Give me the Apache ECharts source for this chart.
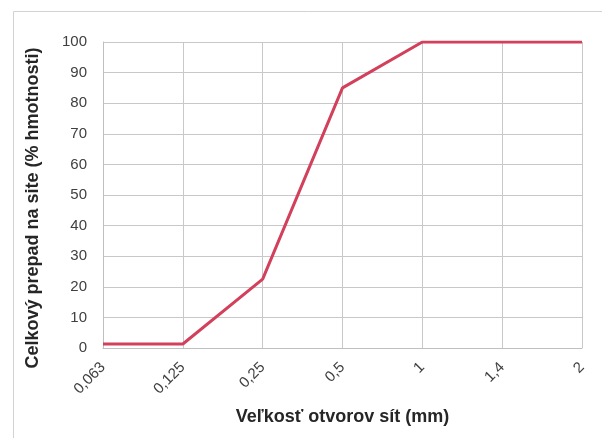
<!DOCTYPE html>
<html><head><meta charset="utf-8">
<script src="https://cdn.jsdelivr.net/npm/echarts@6/dist/echarts.min.js"></script>
<style>html,body{margin:0;padding:0;background:#fff}#c{width:602px;height:438px}</style>
</head><body><div id="c"></div>
<script>
const categories = ['0,063', '0,125', '0,25', '0,5', '1', '1,4', '2'];
const passing = [1.3, 1.3, 22.5, 85, 100, 100, 100];
const yTicks = [0, 10, 20, 30, 40, 50, 60, 70, 80, 90, 100];

const chart = echarts.init(document.getElementById('c'), null, {renderer: 'canvas'});
const font = '"Liberation Sans", Arial, sans-serif';
chart.setOption({
  animation: false,
  backgroundColor: '#fff',
  graphic: [{
    type: 'rect', left: 11, top: 9,
    shape: {width: 620, height: 460},
    style: {fill: 'none', stroke: '#d6d0d2', lineWidth: 1}
  }],
  grid: {left: 103, right: 20, top: 42, bottom: 90, containLabel: false},
  xAxis: {
    type: 'category',
    data: categories,
    boundaryGap: false,
    name: 'Veľkosť otvorov sít (mm)',
    nameLocation: 'middle',
    nameGap: 60,
    nameTextStyle: {fontFamily: font, fontWeight: 'bold', fontSize: 18, color: '#262626'},
    axisLine: {lineStyle: {color: '#bfbfbf'}},
    axisTick: {show: false},
    axisLabel: {rotate: 45, margin: 17, fontFamily: font, fontSize: 15, color: '#404040'},
    splitLine: {show: true, lineStyle: {color: '#c8c8c8', width: 1}}
  },
  yAxis: {
    type: 'value',
    min: 0, max: 100, interval: 10,
    name: 'Celkový prepad na site (% hmotnosti)',
    nameLocation: 'middle',
    nameGap: 61,
    nameTextStyle: {fontFamily: font, fontWeight: 'bold', fontSize: 18, color: '#262626', padding: [0, 26, 0, 0]},
    axisLine: {show: true, lineStyle: {color: '#bfbfbf'}},
    axisTick: {show: false},
    axisLabel: {margin: 16, fontFamily: font, fontSize: 15, color: '#404040',
      formatter: v => yTicks.includes(v) ? String(v) : ''},
    splitLine: {show: true, lineStyle: {color: '#c8c8c8', width: 1}}
  },
  series: [{
    type: 'line',
    data: passing,
    symbol: 'none',
    lineStyle: {color: '#d2405c', width: 3},
    itemStyle: {color: '#d2405c'}
  }]
});
</script></body></html>
